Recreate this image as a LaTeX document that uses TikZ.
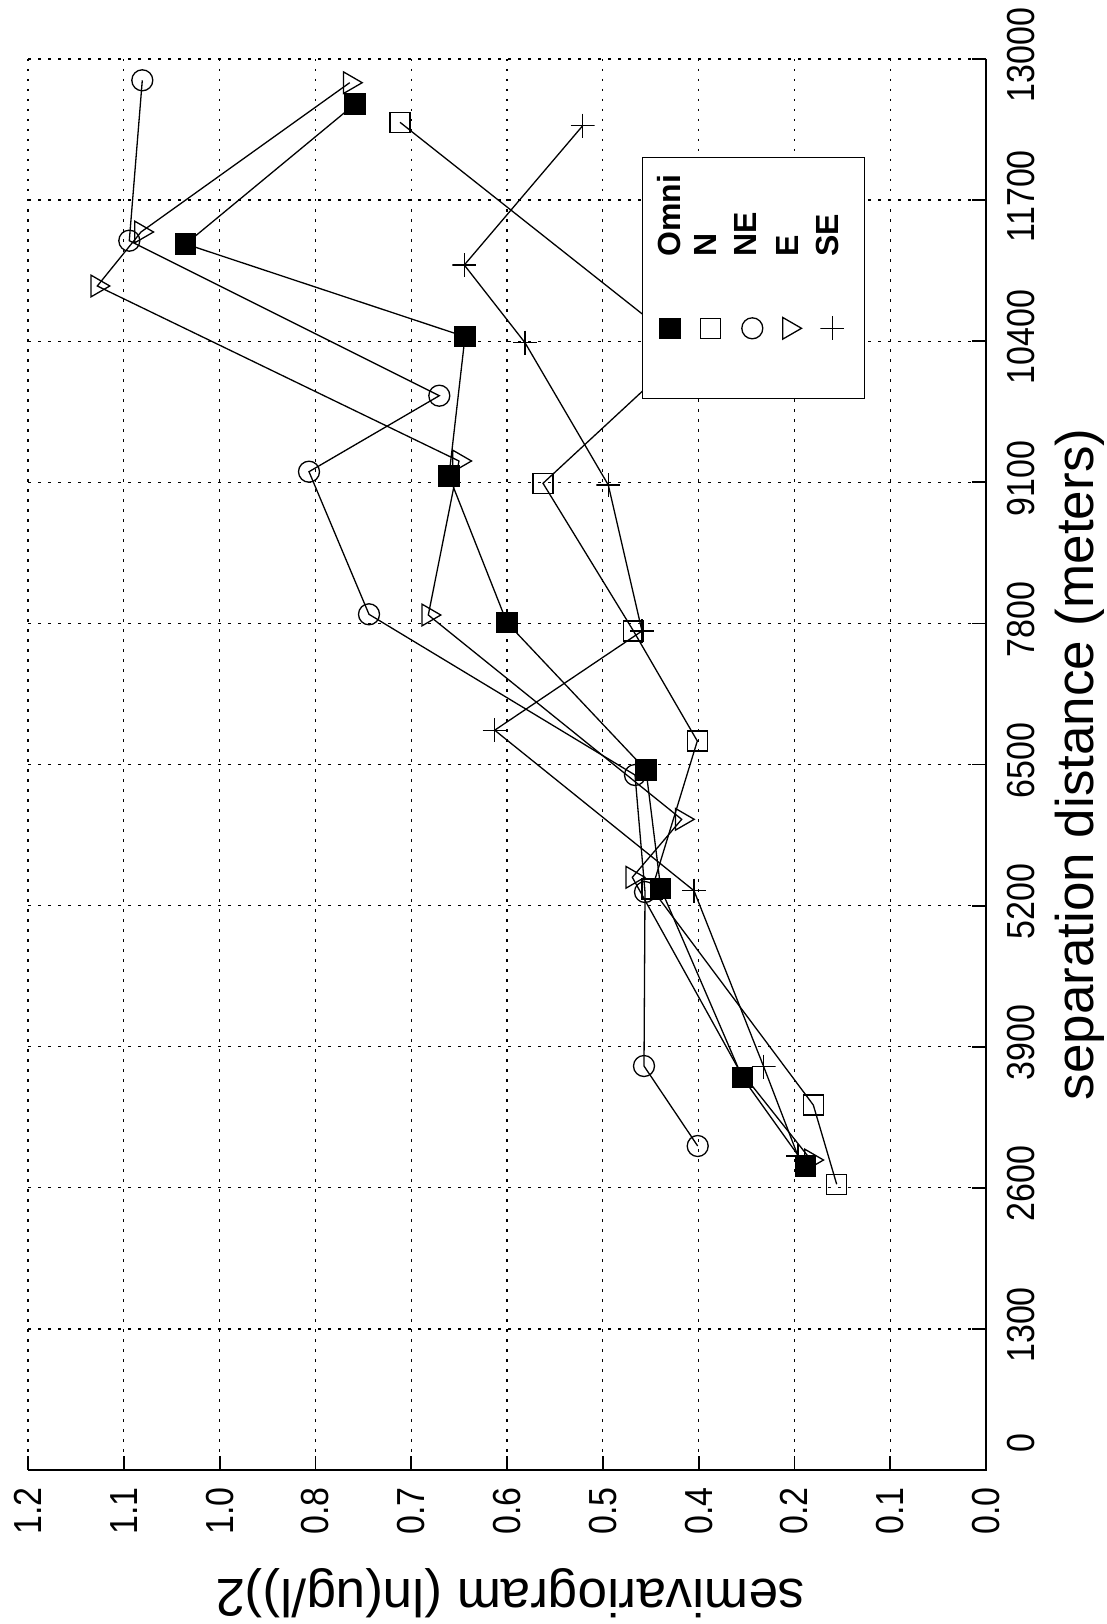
\documentclass[tikz,border=0pt]{standalone}
\usepackage{fontspec}
\setmainfont{Liberation Sans}
\usetikzlibrary{shapes.geometric}
\begin{document}
\begin{tikzpicture}[x=1pt,y=-1pt,
  gridl/.style={line width=1.2pt,dash pattern=on 2.5pt off 7.5pt},
  axisl/.style={line width=1.8pt},
  dline/.style={line width=1.3pt},
  mk/.style={inner sep=0pt,outer sep=0pt,line width=1.3pt},
  omni/.style={mk,rectangle,draw=black,fill=black,minimum size=20pt},
  nmk/.style={mk,rectangle,draw=black,minimum size=20pt},
  nemk/.style={mk,circle,draw=black,minimum size=21pt},
  emk/.style={mk,regular polygon,regular polygon sides=3,shape border rotate=-90,draw=black,minimum size=25pt},
  semk/.style={mk,rectangle,minimum size=24pt,path picture={\draw[line width=1.3pt] (path picture bounding box.north) -- (path picture bounding box.south) (path picture bounding box.west) -- (path picture bounding box.east);}},
  vlab/.style={inner sep=0pt,rotate=90,anchor=east,font=\fontsize{34}{38}\selectfont},
  dlab/.style={inner sep=0pt,rotate=90,anchor=south,font=\fontsize{34}{38}\selectfont},
  legtxt/.style={inner sep=0pt,rotate=90,anchor=base west,font=\fontsize{32}{36}\selectfont\bfseries},
  axlab/.style={inner sep=0pt,anchor=base,font=\fontsize{53}{58}\selectfont}
]
\useasboundingbox (0,0) rectangle (1107,1624);

% grid
\foreach \k in {1,...,10}{
  \draw[gridl] ({986-95.8*\k},59) -- ({986-95.8*\k},1470);
  \draw[axisl] ({986-95.8*\k},1470) -- ({986-95.8*\k},1456);
}
\foreach \j in {1,...,10}{
  \draw[gridl] (28,{1470-141.1*\j}) -- (986,{1470-141.1*\j});
  \draw[axisl] (986,{1470-141.1*\j}) -- (972,{1470-141.1*\j});
}
% axes
\draw[axisl] (986,59) -- (986,1470) -- (28,1470);

% tick labels
\foreach \k/\lab in {0/0.0,1/0.1,2/0.2,3/0.4,4/0.5,5/0.6,6/0.7,7/0.8,8/1.0,9/1.1,10/1.2}
  \node[vlab] (v\k) at ({986-95.8*\k},1487) {\scalebox{1}[1.15]{\lab}};
\node[dlab] (d0) at (1035,1443) {\scalebox{1}[1.15]{0}};
\foreach \j/\lab in {1/1300,2/2600,3/3900,4/5200,5/6500,6/7800,7/9100,8/10400,9/11700,10/13000}
  \node[dlab] (d\j) at (1035,{1470-141.1*\j-4}) {\scalebox{1}[1.15]{\lab}};

% axis labels
\node[axlab,rotate=90] (xlab) at (1093,764.5) {separation distance (meters)};
\node[axlab,rotate=180] (ylab) at (510,1579) {semivariogram (ln(ug/l))2};

% N series
\node[nmk] (n1) at (836.7,1184.3) {};
\node[nmk] (n2) at (813.3,1105) {};
\node[nmk] (n3) at (652,889) {};
\node[nmk] (n4) at (697.3,741) {};
\node[nmk] (n5) at (633.5,631) {};
\node[nmk] (n6) at (543,483.3) {};
\node[nmk] (n7) at (687.3,349.6) {};
\node[nmk] (n8) at (400,122.3) {};
\draw[dline] (n1.center) -- (n2.center) -- (n3.center) -- (n4.center) -- (n5.center) -- (n6.center) -- (n7.center) -- (n8.center);

% NE series
\node[nemk] (c1) at (697.7,1146) {};
\node[nemk] (c2) at (644,1066) {};
\node[nemk] (c3) at (645,892) {};
\node[nemk] (c4) at (635,775) {};
\node[nemk] (c5) at (369,614.3) {};
\node[nemk] (c6) at (309,471.7) {};
\node[nemk] (c7) at (439.3,395.7) {};
\node[nemk] (c8) at (129.3,240.7) {};
\node[nemk] (c9) at (142.3,80.3) {};
\draw[dline] (c1.center) -- (c2.center) -- (c3.center) -- (c4.center) -- (c5.center) -- (c6.center) -- (c7.center) -- (c8.center) -- (c9.center);

% E series
\node[emk] (e1) at (811,1160) {};
\coordinate (e2) at (738,1068);
\node[emk] (e3) at (632.3,877.3) {};
\node[emk] (e4) at (681.7,819.3) {};
\node[emk] (e5) at (428.3,615) {};
\node[emk] (e6) at (459,461) {};
\node[emk] (e7) at (97.3,286) {};
\node[emk] (e8) at (141,232) {};
\node[emk] (e9) at (349.7,82.7) {};
\draw[dline] (e1.center) -- (e2) -- (e3.center) -- (e4.center) -- (e5.center) -- (e6.center) -- (e7.center) -- (e8.center) -- (e9.center);

% SE series
\node[semk] (s1) at (798,1156) {};
\node[semk] (s2) at (763.7,1066.7) {};
\node[semk] (s3) at (694,890.7) {};
\node[semk] (s4) at (494.7,730.2) {};
\node[semk] (s5) at (642,631) {};
\node[semk] (s6) at (608.3,485) {};
\node[semk] (s7) at (525,342.7) {};
\node[semk] (s8) at (464.3,265) {};
\node[semk] (s9) at (582.7,125.7) {};
\draw[dline] (s1.center) -- (s2.center) -- (s3.center) -- (s4.center) -- (s5.center) -- (s6.center) -- (s7.center) -- (s8.center) -- (s9.center);

% Omni series
\node[omni] (o1) at (805.7,1166) {};
\node[omni] (o2) at (742.3,1077.3) {};
\node[omni] (o3) at (660.7,888.3) {};
\node[omni] (o4) at (646,770) {};
\node[omni] (o5) at (507,622.7) {};
\node[omni] (o6) at (449,476) {};
\node[omni] (o7) at (465,336.7) {};
\node[omni] (o8) at (185.7,244) {};
\node[omni] (o9) at (355,104) {};
\draw[dline] (o1.center) -- (o2.center) -- (o3.center) -- (o4.center) -- (o5.center) -- (o6.center) -- (o7.center) -- (o8.center) -- (o9.center);

% legend
\node[draw=black,fill=white,line width=1.4pt,minimum width=222pt,minimum height=241pt,inner sep=0pt] (leg) at (753.3,277.8) {};
\node[omni] (lo) at (670,328.3) {};
\node[nmk] (ln) at (710.7,328.3) {};
\node[nemk] (lne) at (752.3,328.3) {};
\node[emk] (le) at (789,328.3) {};
\node[semk] (lse) at (832.3,328.3) {};
\node[legtxt] (to) at (680,256.7) {Omni};
\node[legtxt] (tn) at (716.7,256.7) {N};
\node[legtxt] (tne) at (756.7,256.7) {NE};
\node[legtxt] (te) at (798,256.7) {E};
\node[legtxt] (tse) at (838,256.7) {SE};
\end{tikzpicture}
\end{document}
